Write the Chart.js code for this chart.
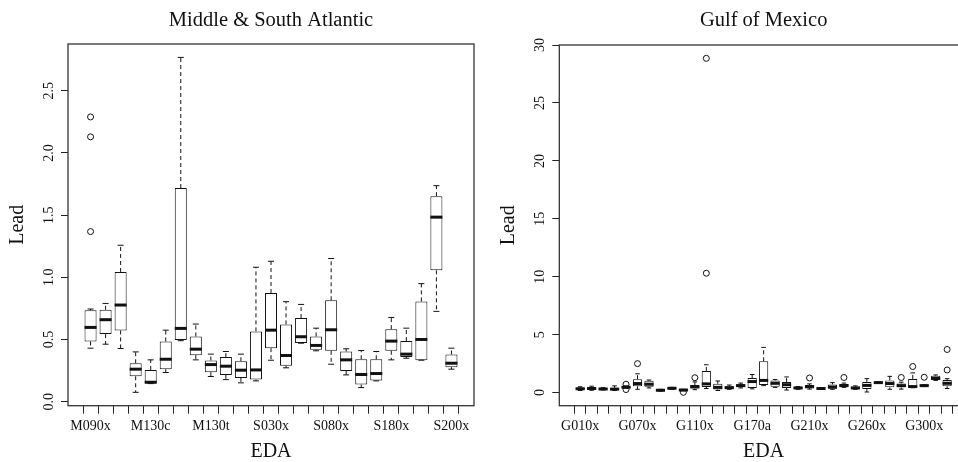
<!DOCTYPE html>
<html><head><meta charset="utf-8">
<script src="https://cdn.jsdelivr.net/npm/chart.js@4.4.1/dist/chart.umd.min.js"></script>
<style>
html,body{margin:0;padding:0;background:#fff;overflow:hidden;width:958px;height:462px;}
#c1{position:absolute;left:0;top:0;}
#c2{position:absolute;left:479px;top:0;}
</style></head><body>
<canvas id="c1" width="479" height="462"></canvas>
<canvas id="c2" width="520" height="462"></canvas>
<script>
// ---------- Middle & South Atlantic ----------
const atlanticEDA = ['M090x','','','','M130c','','','','M130t','','','','S030x','','','','S080x','','','','S180x','','','','S200x'];
const atlanticLower = [0.43,0.462,0.427,0.075,0.145,0.234,0.49,0.336,0.202,0.177,0.151,0.167,0.333,0.272,0.47,0.409,0.301,0.215,0.113,0.167,0.336,0.349,0.333,0.726,0.261];
const atlanticQ1    = [0.484,0.543,0.573,0.204,0.148,0.261,0.495,0.374,0.237,0.215,0.191,0.177,0.43,0.288,0.471,0.417,0.409,0.247,0.137,0.169,0.409,0.358,0.333,1.056,0.277];
const atlanticMed   = [0.597,0.659,0.777,0.261,0.156,0.341,0.589,0.422,0.298,0.285,0.253,0.255,0.575,0.371,0.522,0.452,0.578,0.336,0.218,0.226,0.487,0.382,0.5,1.484,0.309];
const atlanticQ3    = [0.735,0.739,1.043,0.309,0.255,0.484,1.718,0.524,0.331,0.358,0.325,0.565,0.874,0.621,0.672,0.524,0.815,0.403,0.341,0.341,0.583,0.487,0.806,1.653,0.379];
const atlanticUpper = [0.745,0.79,1.258,0.4,0.336,0.575,2.769,0.624,0.382,0.403,0.382,1.081,1.129,0.804,0.782,0.591,1.151,0.425,0.411,0.403,0.677,0.591,0.949,1.737,0.43];
const atlanticOutlierBox   = [0,0,0];
const atlanticOutlierValue = [1.368,2.13,2.29];
const atlanticYTicks      = [0,0.5,1,1.5,2,2.5];
const atlanticYTickLabels = ['0.0','0.5','1.0','1.5','2.0','2.5'];

// ---------- Gulf of Mexico ----------
const gulfEDA = ['G010x','','','','','G070x','','','','','G110x','','','','','G170a','','','','','G210x','','','','','G260x','','','','','G300x','',''];
const gulfLower = [0.18,0.20,0.22,0.18,0.38,0.28,0.40,0.12,0.28,0.16,0.25,0.35,0.18,0.28,0.40,0.32,0.60,0.45,0.22,0.28,0.30,0.33,0.28,0.45,0.28,0.05,0.80,0.28,0.30,0.42,0.52,1.05,0.35];
const gulfQ1    = [0.26,0.27,0.27,0.24,0.42,0.55,0.50,0.16,0.33,0.19,0.36,0.48,0.26,0.33,0.48,0.40,0.65,0.50,0.40,0.33,0.40,0.34,0.32,0.50,0.32,0.30,0.83,0.45,0.45,0.45,0.56,1.08,0.55];
const gulfMed   = [0.33,0.35,0.31,0.30,0.46,0.78,0.72,0.20,0.37,0.22,0.50,0.75,0.45,0.42,0.60,0.95,1.05,0.80,0.68,0.40,0.50,0.35,0.48,0.60,0.40,0.62,0.86,0.78,0.60,0.52,0.60,1.22,0.80];
const gulfQ3    = [0.42,0.44,0.36,0.40,0.52,1.15,1.02,0.24,0.41,0.25,0.65,1.87,0.76,0.55,0.72,1.26,2.70,1.05,0.92,0.46,0.65,0.36,0.70,0.75,0.50,0.92,0.90,1.05,0.78,1.18,0.64,1.45,1.08];
const gulfUpper = [0.50,0.55,0.42,0.58,0.58,1.62,1.08,0.28,0.45,0.28,0.92,2.40,1.00,0.65,0.82,1.56,3.90,1.12,1.35,0.52,0.75,0.37,0.86,0.82,0.58,1.20,0.94,1.40,0.90,1.70,0.68,1.52,1.20];
const gulfOutlierBox   = [4,4,5,9,10,11,11,20,23,28,29,30,32,32];
const gulfOutlierValue = [0.26,0.72,2.5,0.02,1.28,10.3,28.85,1.26,1.3,1.3,2.25,1.32,1.95,3.72];
const gulfYTicks      = [0,5,10,15,20,25,30];
const gulfYTickLabels = ['0','5','10','15','20','25','30'];

Chart.defaults.font.family = "'Liberation Serif', 'DejaVu Serif', serif";
Chart.defaults.color = '#111';

function makeBoxPlugin(b) {
  return {
    id: 'boxParts',
    afterDatasetsDraw(chart) {
      const xs = chart.scales.x, ys = chart.scales.y, ctx = chart.ctx;
      const unit = xs.getPixelForValue(1) - xs.getPixelForValue(0);
      const bw = unit * 0.8;
      ctx.save();
      ctx.strokeStyle = '#111';
      for (let i = 0; i < b.med.length; i++) {
        const x = xs.getPixelForValue(i);
        const yq1 = ys.getPixelForValue(b.q1[i]), yq3 = ys.getPixelForValue(b.q3[i]);
        const ylo = ys.getPixelForValue(b.lower[i]), yhi = ys.getPixelForValue(b.upper[i]);
        const ym = ys.getPixelForValue(b.med[i]);
        ctx.lineWidth = 1;
        ctx.setLineDash([4, 3]);
        ctx.beginPath();
        ctx.moveTo(x, yq3); ctx.lineTo(x, yhi);
        ctx.moveTo(x, yq1); ctx.lineTo(x, ylo);
        ctx.stroke();
        ctx.setLineDash([]);
        ctx.beginPath();
        ctx.moveTo(x - bw / 4, yhi); ctx.lineTo(x + bw / 4, yhi);
        ctx.moveTo(x - bw / 4, ylo); ctx.lineTo(x + bw / 4, ylo);
        ctx.stroke();
        ctx.lineWidth = 3;
        ctx.beginPath();
        ctx.moveTo(x - bw / 2, ym); ctx.lineTo(x + bw / 2, ym);
        ctx.stroke();
      }
      ctx.restore();
    },
    afterDraw(chart) {
      const ys = chart.scales.y, ctx = chart.ctx, a = chart.chartArea;
      ctx.save();
      ctx.strokeStyle = '#333';
      ctx.lineWidth = 1.3;
      ctx.strokeRect(a.left, a.top, a.right - a.left, a.bottom - a.top);
      ctx.fillStyle = '#111';
      ctx.font = "14px 'Liberation Serif'";
      ctx.textAlign = 'center';
      ctx.textBaseline = 'alphabetic';
      b.yTicks.forEach((v, k) => {
        const y = ys.getPixelForValue(v);
        ctx.save();
        ctx.translate(a.left - 15, y);
        ctx.rotate(-Math.PI / 2);
        ctx.fillText(b.yTickLabels[k], 0, 0);
        ctx.restore();
      });
      ctx.restore();
    }
  };
}

function makeChart(canvas, d) {
  const n = d.labels.length;
  const all = d.lower.concat(d.upper, d.outVal);
  const lo = Math.min(...all), hi = Math.max(...all);
  const ext = (hi - lo) * 0.04;
  const xext = n * 0.04;
  return new Chart(canvas, {
    type: 'bar',
    data: {
      datasets: [
        {
          type: 'bar',
          data: d.q1.map((v, i) => ({ x: i, y: [d.q1[i], d.q3[i]] })),
          backgroundColor: '#ffffff',
          borderColor: '#111',
          borderWidth: 1,
          borderSkipped: false,
          barPercentage: 0.8,
          categoryPercentage: 1
        },
        {
          type: 'scatter',
          data: d.outBox.map((bx, k) => ({ x: bx, y: d.outVal[k] })),
          pointStyle: 'circle',
          pointRadius: 3,
          borderColor: '#111',
          backgroundColor: 'rgba(0,0,0,0)',
          borderWidth: 1,
          showLine: false
        }
      ]
    },
    options: {
      responsive: false,
      animation: false,
      layout: { padding: { left: 0, right: d.padRight, top: 0, bottom: 0 } },
      plugins: {
        legend: { display: false },
        tooltip: { enabled: false },
        title: {
          display: true, text: d.title, fullSize: false,
          font: { size: 20.5, weight: 'normal', lineHeight: 1.2 },
          color: '#111',
          padding: { top: 8, bottom: d.titleBottom }
        }
      },
      scales: {
        x: {
          type: 'linear', offset: false,
          min: -0.5 - xext, max: n - 0.5 + xext,
          afterBuildTicks: s => { s.ticks = d.labels.map((_, i) => ({ value: i })); },
          afterFit: s => { s.height = 56.3; },
          ticks: {
            autoSkip: false, maxRotation: 0, minRotation: 0, padding: 4,
            font: { size: 14 }, color: '#111',
            callback: v => (v % d.step === 0 ? d.labels[v] : '')
          },
          grid: { drawOnChartArea: false, drawTicks: true, tickLength: 8, color: '#222' },
          border: { display: false },
          title: { display: true, text: 'EDA', font: { size: 20, lineHeight: 1 }, color: '#111', padding: { top: 0, bottom: 0 } }
        },
        y: {
          type: 'linear',
          min: lo - ext, max: hi + ext,
          afterBuildTicks: s => { s.ticks = d.yTicks.map(v => ({ value: v })); },
          afterFit: s => { s.width = d.yWidth; },
          ticks: { display: false },
          grid: { drawOnChartArea: false, drawTicks: true, tickLength: 7, color: '#222' },
          border: { display: false },
          title: { display: true, text: 'Lead', font: { size: 20, lineHeight: 1 }, color: '#111', padding: { top: d.yTitlePad, bottom: 0 } }
        }
      }
    },
    plugins: [makeBoxPlugin(d)]
  });
}

const left = {
  title: 'Middle & South Atlantic', labels: atlanticEDA, step: 4,
  lower: atlanticLower, q1: atlanticQ1, med: atlanticMed, q3: atlanticQ3, upper: atlanticUpper,
  outBox: atlanticOutlierBox, outVal: atlanticOutlierValue,
  yTicks: atlanticYTicks, yTickLabels: atlanticYTickLabels,
  yWidth: 68, padRight: 4, titleBottom: 11.4, yTitlePad: 8
};
const right = {
  title: 'Gulf of Mexico', labels: gulfEDA, step: 5,
  lower: gulfLower, q1: gulfQ1, med: gulfMed, q3: gulfQ3, upper: gulfUpper,
  outBox: gulfOutlierBox, outVal: gulfOutlierValue,
  yTicks: gulfYTicks, yTickLabels: gulfYTickLabels,
  yWidth: 80.3, padRight: 31, titleBottom: 12.4, yTitlePad: 20
};
makeChart(document.getElementById('c1'), left);
makeChart(document.getElementById('c2'), right);
</script>
</body></html>
